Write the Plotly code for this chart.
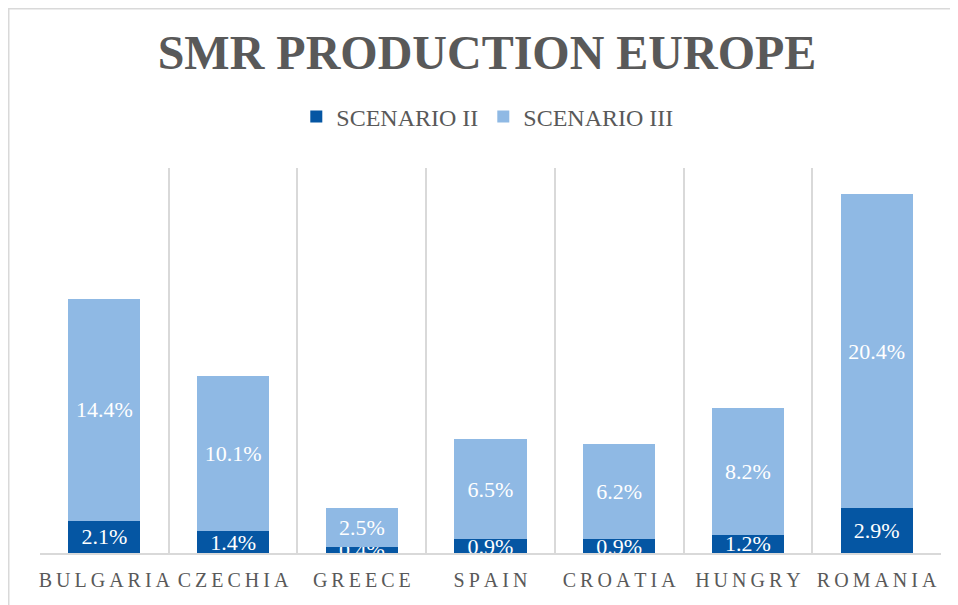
import plotly.graph_objects as go

categories = ["BULGARIA", "CZECHIA", "GREECE", "SPAIN", "CROATIA", "HUNGRY", "ROMANIA"]
scenario_ii = [2.1, 1.4, 0.4, 0.9, 0.9, 1.2, 2.9]
scenario_iii = [14.4, 10.1, 2.5, 6.5, 6.2, 8.2, 20.4]

SERIF = "Liberation Serif, Times New Roman, serif"
GRAY = "#595959"
GRID = "#D9D9D9"
DARK = "#0556A3"
LIGHT = "#8FB9E4"

def spaced(s):
    return "\u2009".join(list(s))

xlabels = [spaced(c) for c in categories]

fig = go.Figure()
for name, vals, col in [("SCENARIO II", scenario_ii, DARK), ("SCENARIO III", scenario_iii, LIGHT)]:
    fig.add_trace(go.Bar(
        x=xlabels, y=[v / 100 for v in vals], name=name,
        marker=dict(color=col, line=dict(width=0)),
        text=[f"{v:.1f}%" for v in vals], textposition="inside",
        insidetextanchor="middle", constraintext="none",
        textfont=dict(family=SERIF, size=22, color="white"),
        width=0.56, cliponaxis=True, hoverinfo="skip",
    ))

# page is offset by the 8px body margin; figure coords = page coords - 8
L, R, T, B = 32, 25, 160, 60
PW, PH = 958 - L - R, 605 - T - B

fig.update_layout(
    barmode="stack",
    width=958, height=605,
    margin=dict(l=L, r=R, t=T, b=B, autoexpand=False),
    paper_bgcolor="white", plot_bgcolor="white",
    title=dict(text="<b>SMR PRODUCTION EUROPE</b>", x=0.5, xanchor="center",
               y=1 - 44 / 605, yanchor="middle",
               font=dict(family=SERIF, size=48, color=GRAY)),
    legend=dict(orientation="h", x=0.497, xanchor="center", y=1 + (T - 109) / PH,
                yanchor="middle", font=dict(family=SERIF, size=24, color=GRAY),
                itemwidth=30, traceorder="normal"),
    xaxis=dict(type="category", tickson="boundaries", showgrid=True, gridcolor=GRID,
               gridwidth=1.5, showline=True, linecolor=GRID, linewidth=1.5,
               ticks="", tickangle=0, automargin=False, ticklabelstandoff=8,
               tickfont=dict(family=SERIF, size=20, color=GRAY)),
    yaxis=dict(range=[0, 0.25], visible=False, showgrid=False, zeroline=False),
    shapes=[dict(type="rect", xref="paper", yref="paper",
                 x0=(0.75 - L) / PW, x1=(1000 - L) / PW,
                 y0=-(B + 40) / PH, y1=1 + (T - 0.75) / PH,
                 line=dict(color=GRID, width=1.5), layer="below")],
)

fig.write_html("out.html")
